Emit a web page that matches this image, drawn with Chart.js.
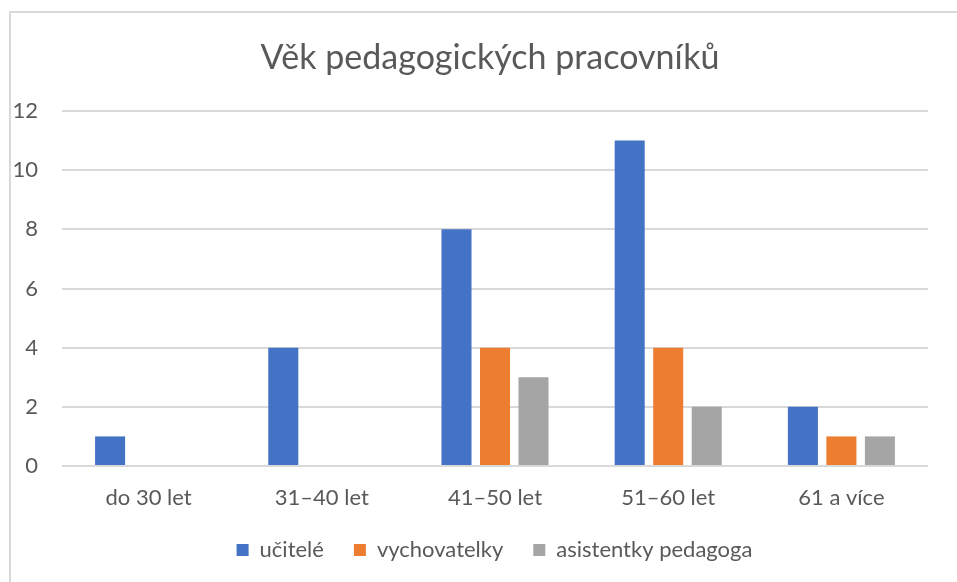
<!DOCTYPE html>
<html>
<head>
<meta charset="utf-8">
<script src="https://cdn.jsdelivr.net/npm/chart.js@4"></script>
<style>
  html, body { margin: 0; padding: 0; background: #ffffff; overflow: hidden; }
  #wrap { position: relative; width: 957px; height: 582px; }
  #frame { position: absolute; left: 9px; top: 11px; width: 1000px; height: 1000px;
           border-left: 2px solid #D9D9D9; border-top: 2px solid #D9D9D9; box-sizing: border-box; }
  canvas { position: absolute; left: 0; top: 0; }
</style>
</head>
<body>
<div id="wrap">
  <div id="frame"></div>
  <canvas id="c" width="957" height="582"></canvas>
</div>
<script>
const chartTitle = 'Věk pedagogických pracovníků';
const categories = ['do 30 let', '31–40 let', '41–50 let', '51–60 let', '61 a více'];
const seriesNames = ['učitelé', 'vychovatelky', 'asistentky pedagoga'];
const ucitele = [1, 4, 8, 11, 2];
const vychovatelky = [0, 0, 4, 4, 1];
const asistentky = [0, 0, 3, 2, 1];
const yTicks = [0, 2, 4, 6, 8, 10, 12];

const colors = ['#4472C4', '#ED7D31', '#A5A5A5'];
const textColor = '#595959';
const fontFamily = 'Lato, "Open Sans", sans-serif';

const seriesValues = [ucitele, vychovatelky, asistentky];

// Shift title and legend centring to match the reference
const centreShift = {
  id: 'centreShift',
  afterLayout(chart) {
    if (chart.titleBlock) chart.titleBlock.left = 52;
    if (chart.legend) chart.legend.left = 61;
  }
};

new Chart(document.getElementById('c'), {
  type: 'bar',
  data: {
    labels: categories,
    datasets: seriesNames.map((name, i) => ({
      label: name,
      data: seriesValues[i],
      backgroundColor: colors[i],
      borderWidth: 0,
      categoryPercentage: 0.667,
      barPercentage: 0.78
    }))
  },
  options: {
    responsive: false,
    animation: false,
    layout: { padding: { left: 0, right: 29, top: 12, bottom: 11 } },
    plugins: {
      title: {
        display: true,
        text: chartTitle,
        color: textColor,
        font: { family: fontFamily, size: 34, weight: 'normal' },
        padding: { top: 25.6, bottom: 32.6 }
      },
      legend: {
        position: 'bottom',
        labels: {
          color: textColor,
          font: { family: fontFamily, size: 22 },
          boxWidth: 12,
          boxHeight: 12,
          padding: 30
        }
      },
      tooltip: { enabled: false }
    },
    scales: {
      x: {
        grid: { display: false, drawTicks: false },
        border: { display: false },
        ticks: { color: textColor, font: { family: fontFamily, size: 22 }, padding: 19, maxRotation: 0 },
        afterFit: (s) => { s.height = 43; }
      },
      y: {
        min: 0,
        max: 12,
        afterBuildTicks: (s) => { s.ticks = yTicks.map(v => ({ value: v })); },
        grid: { color: '#D9D9D9', lineWidth: 2, drawTicks: false },
        border: { display: false },
        ticks: { color: textColor, font: { family: fontFamily, size: 22 }, padding: 24 },
        afterFit: (s) => { s.width = 62; }
      }
    }
  },
  plugins: [centreShift]
});
</script>
</body>
</html>
